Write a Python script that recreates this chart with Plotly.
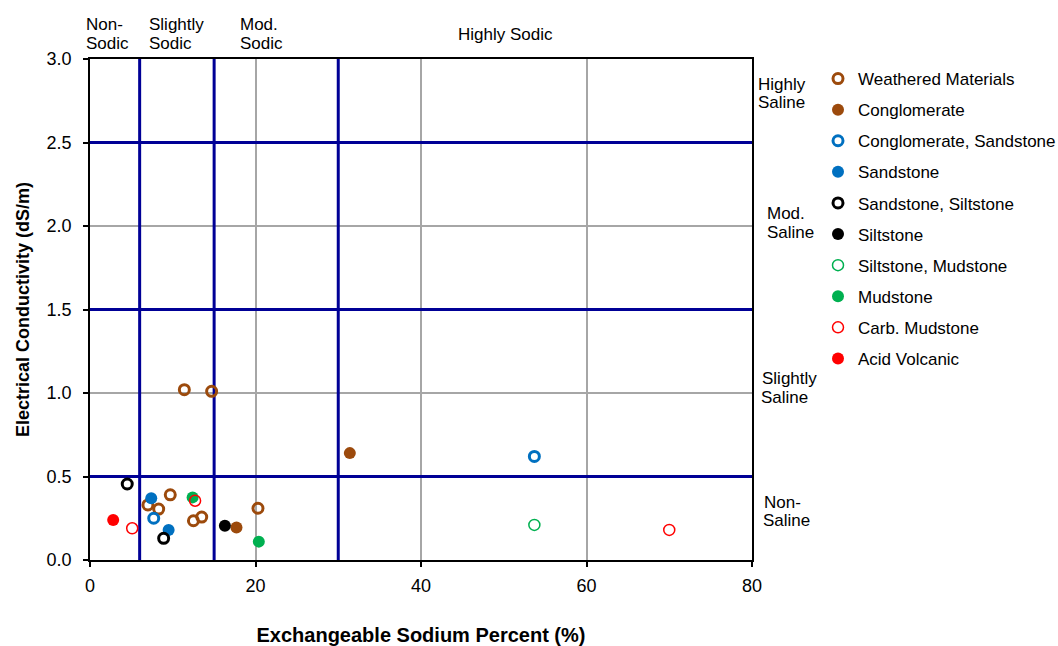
import plotly.graph_objects as go

# Exchangeable sodium percent (%) and electrical conductivity (dS/m) per material
wm_esp = [11.4, 14.7, 9.7, 7.0, 8.3, 12.5, 13.5, 20.3]
wm_ec = [1.02, 1.01, 0.39, 0.33, 0.305, 0.235, 0.257, 0.31]
cg_esp = [31.4, 17.7]
cg_ec = [0.64, 0.195]
cgs_esp = [53.7, 7.7]
cgs_ec = [0.62, 0.25]
ss_esp = [7.4, 9.5]
ss_ec = [0.37, 0.18]
sst_esp = [4.5, 8.9]
sst_ec = [0.455, 0.13]
st_esp = [16.3]
st_ec = [0.205]
stm_esp = [53.7]
stm_ec = [0.21]
md_esp = [12.4, 20.4]
md_ec = [0.375, 0.11]
cm_esp = [12.7, 5.1, 70.0]
cm_ec = [0.355, 0.19, 0.18]
av_esp = [2.8]
av_ec = [0.24]

# Class boundaries
esp_limits = [6, 15, 30]
ec_limits = [0.5, 1.5, 2.5]

x_ticks = [0, 20, 40, 60, 80]
y_ticks = [0.0, 0.5, 1.0, 1.5, 2.0, 2.5, 3.0]

BROWN = "#9C4A0C"
BLUE = "#0070C0"
GREEN = "#00B050"
RED = "#FF0000"
BLACK = "#000000"
LIMIT = "#000096"
FONT = "Liberation Sans, Arial, sans-serif"

series = [
    ("Weathered Materials", wm_esp, wm_ec, BROWN, "open_thick"),
    ("Conglomerate", cg_esp, cg_ec, BROWN, "filled"),
    ("Conglomerate, Sandstone", cgs_esp, cgs_ec, BLUE, "open_thick"),
    ("Sandstone", ss_esp, ss_ec, BLUE, "filled"),
    ("Sandstone, Siltstone", sst_esp, sst_ec, BLACK, "open_thick"),
    ("Siltstone", st_esp, st_ec, BLACK, "filled"),
    ("Siltstone, Mudstone", stm_esp, stm_ec, GREEN, "open_thin"),
    ("Mudstone", md_esp, md_ec, GREEN, "filled"),
    ("Carb. Mudstone", cm_esp, cm_ec, RED, "open_thin"),
    ("Acid Volcanic", av_esp, av_ec, RED, "filled"),
]

fig = go.Figure()
for i, (name, xs, ys, color, style) in enumerate(series):
    if style == "filled":
        marker = dict(symbol="circle", size=12, color=color, line=dict(width=0))
    elif style == "open_thick":
        marker = dict(symbol="circle-open", size=10, color=color, line=dict(width=3, color=color))
    else:
        marker = dict(symbol="circle-open", size=11, color=color, line=dict(width=1.5, color=color))
    fig.add_trace(go.Scatter(
        x=xs, y=ys, mode="markers", name=name, marker=marker,
        legendgroup=f"g{i}", cliponaxis=False,
    ))

# Sodicity and salinity class boundaries (above the grid, below the points)
for v in esp_limits:
    fig.add_shape(type="line", xref="x", yref="y", x0=v, x1=v, y0=0, y1=3,
                  line=dict(color=LIMIT, width=3), layer="between")
for v in ec_limits:
    fig.add_shape(type="line", xref="x", yref="y", x0=0, x1=80, y0=v, y1=v,
                  line=dict(color=LIMIT, width=3), layer="between")

# Plot-area pixel frame used for class labels
L, R, T, B = 90, 752, 59, 560


def px(x):
    return (x - L) / (R - L)


def py(y):
    return (B - y) / (B - T)


class_labels = [
    ("Non-", 84, 25, "left"), ("Sodic", 84, 43, "left"),
    ("Slightly", 147, 25, "left"), ("Sodic", 147, 43, "left"),
    ("Mod.", 238, 25, "left"), ("Sodic", 238, 43, "left"),
    ("Highly Sodic", 505, 34, "center"),
    ("Highly", 756, 84, "left"), ("Saline", 756, 102, "left"),
    ("Mod.", 765, 214, "left"), ("Saline", 765, 232, "left"),
    ("Slightly", 760, 378, "left"), ("Saline", 759, 397, "left"),
    ("Non-", 762, 502, "left"), ("Saline", 761, 520, "left"),
]
for text, x, y, align in class_labels:
    fig.add_annotation(
        text=text, xref="paper", yref="paper", x=px(x), y=py(y),
        xanchor="left" if align == "left" else "center", yanchor="middle",
        showarrow=False, font=dict(family=FONT, size=17, color="black"),
    )

axis_common = dict(
    showline=True, linecolor="black", linewidth=1.5, mirror=True,
    ticks="outside", ticklen=5, tickwidth=1.5, tickcolor="black",
    showgrid=True, gridcolor="#A6A6A6", gridwidth=1.5, zeroline=False,
    tickfont=dict(family=FONT, size=18, color="black"),
)

fig.update_xaxes(
    range=[0, 80], tickvals=x_ticks, ticklabelstandoff=4,
    title=dict(text="<b>Exchangeable Sodium Percent (%)</b>", standoff=40,
               font=dict(family=FONT, size=20, color="black")),
    **axis_common,
)
fig.update_yaxes(
    range=[0, 3], tickvals=y_ticks, tickformat=".1f", ticklabelstandoff=8,
    title=dict(text="<b>Electrical Conductivity (dS/m)</b>", standoff=12,
               font=dict(family=FONT, size=18, color="black")),
    **axis_common,
)

fig.update_layout(
    width=1058, height=646,
    margin=dict(l=L, r=1058 - R, t=T, b=646 - B, autoexpand=False),
    plot_bgcolor="white", paper_bgcolor="white",
    font=dict(family=FONT, color="black"),
    legend=dict(
        x=px(818), y=py(61), xanchor="left", yanchor="top",
        font=dict(family=FONT, size=17, color="black"),
        tracegroupgap=6, bgcolor="rgba(0,0,0,0)", borderwidth=0,
    ),
    showlegend=True,
)

fig.write_html("out.html")
